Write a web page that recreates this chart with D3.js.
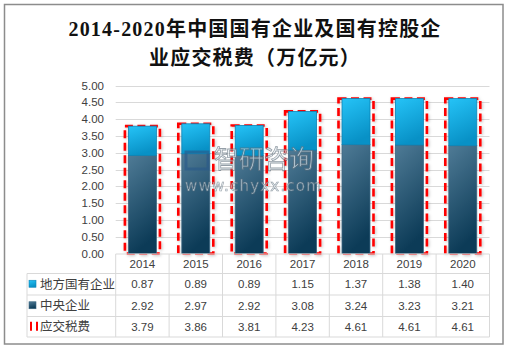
<!DOCTYPE html>
<html><head><meta charset="utf-8">
<script src="https://cdn.jsdelivr.net/npm/d3@7"></script>
<style>body{margin:0;background:#fff}svg{display:block}</style>
</head><body>
<script>
const years = ["2014","2015","2016","2017","2018","2019","2020"];
const localSOE = [0.87,0.89,0.89,1.15,1.37,1.38,1.40];
const centralSOE = [2.92,2.97,2.92,3.08,3.24,3.23,3.21];
const taxPayable = [3.79,3.86,3.81,4.23,4.61,4.61,4.61];
const yTicks = [0,0.5,1,1.5,2,2.5,3,3.5,4,4.5,5];
const seriesNames = ["地方国有企业","中央企业","应交税费"];
const titleLines = ["2014-2020年中国国有企业及国有控股企","业应交税费（万亿元）"];

const W=507,H=348;
const svg=d3.select("body").append("svg").attr("width",W).attr("height",H);
const defs=svg.append("defs");
const gDark=defs.append("linearGradient").attr("id","gDark").attr("x1",0).attr("y1",0).attr("x2",0.25).attr("y2",1);
gDark.append("stop").attr("offset",0).attr("stop-color","#4f7b96");
gDark.append("stop").attr("offset",1).attr("stop-color","#0c3b57");
const gCyan=defs.append("linearGradient").attr("id","gCyan").attr("x1",0).attr("y1",0).attr("x2",0.3).attr("y2",1);
gCyan.append("stop").attr("offset",0).attr("stop-color","#25c3f7");
gCyan.append("stop").attr("offset",1).attr("stop-color","#0891c6");
const sh=defs.append("filter").attr("id","sh").attr("x","-30%").attr("y","-10%").attr("width","160%").attr("height","120%");
sh.append("feDropShadow").attr("dx",1).attr("dy",1).attr("stdDeviation",1.5).attr("flood-color","#000").attr("flood-opacity",0.25);

svg.append("rect").attr("x",4.5).attr("y",4.5).attr("width",498.5).attr("height",339.5).attr("fill","#fff").attr("stroke","#8c8c8c").attr("stroke-width",1.5);

const title=svg.append("g").attr("font-family","'Liberation Serif','Noto Sans CJK SC',serif").attr("font-weight","bold").attr("font-size",20).attr("fill","#111").attr("text-anchor","middle");
title.selectAll("text").data(titleLines).join("text").attr("x",255).attr("y",(d,i)=>36+i*28.5).attr("letter-spacing",1.2).text(d=>d);

const x0=115.7,x1=489.5;
const x=d3.scaleBand().domain(years).range([x0,x1]).padding(0);
const y=d3.scaleLinear().domain([0,5]).range([253.5,85.5]);

svg.append("g").selectAll("line").data(yTicks.slice(1)).join("line")
 .attr("x1",x0).attr("x2",x1).attr("y1",d=>Math.round(y(d))+0.5).attr("y2",d=>Math.round(y(d))+0.5)
 .attr("stroke","#d9d9d9");

const yAxis=d3.axisLeft(y).tickValues(yTicks).tickFormat(d3.format(".2f")).tickSize(0).tickPadding(0);
const ya=svg.append("g").attr("transform","translate(104,0)").call(yAxis);
ya.select(".domain").remove();
ya.selectAll("text").attr("font-family","'Liberation Sans',Arial,sans-serif").attr("font-size",11.5).attr("fill","#404040");

const bw=28, dw=35;
const bars=svg.append("g");
years.forEach((yr,i)=>{
  const cx=x(yr)+x.bandwidth()/2;
  bars.append("rect").attr("x",cx-dw/2).attr("y",y(taxPayable[i])).attr("width",dw).attr("height",y(0)-y(taxPayable[i]))
   .attr("fill","none").attr("stroke","#ff0000").attr("stroke-width",2.6).attr("stroke-dasharray","8,4.5").attr("filter","url(#sh)");
  bars.append("rect").attr("x",cx-bw/2).attr("y",y(centralSOE[i])).attr("width",bw).attr("height",y(0)-y(centralSOE[i]))
   .attr("fill","url(#gDark)").attr("stroke","#3c6782").attr("stroke-width",0.8);
  bars.append("rect").attr("x",cx-bw/2).attr("y",y(centralSOE[i]+localSOE[i])).attr("width",bw).attr("height",y(centralSOE[i])-y(centralSOE[i]+localSOE[i]))
   .attr("fill","url(#gCyan)").attr("stroke","#0c84b6").attr("stroke-width",0.8);
});

const wm=svg.append("g").attr("opacity",0.65);
wm.append("rect").attr("x",186).attr("y",152).attr("width",22).attr("height",17).attr("fill","none").attr("stroke","#2a5a8a").attr("stroke-width",3);
wm.append("text").attr("x",214).attr("y",168).attr("font-family","'Noto Sans CJK SC',sans-serif").attr("font-size",25).attr("fill","#e8eef2").attr("stroke","#5d6d7a").attr("stroke-width",0.8).text("智研咨询");
wm.append("text").attr("x",185).attr("y",191).attr("font-family","'DejaVu Sans',sans-serif").attr("font-size",15).attr("letter-spacing",1.2).attr("fill","#e8eef2").attr("stroke","#5d6d7a").attr("stroke-width",0.6).text("www.chyxx.com");

const rowsY=[254,273.5,295,316.5,337];
const tbl=svg.append("g").attr("stroke","#d9d9d9").attr("stroke-width",1);
rowsY.forEach((ry,i)=>{
  tbl.append("line").attr("x1",i===0?x0:27).attr("x2",x1).attr("y1",ry).attr("y2",ry);
});
tbl.append("line").attr("x1",27).attr("x2",27).attr("y1",rowsY[1]).attr("y2",rowsY[4]);
years.forEach(yr=>{ tbl.append("line").attr("x1",x(yr)).attr("x2",x(yr)).attr("y1",rowsY[0]).attr("y2",rowsY[4]); });
tbl.append("line").attr("x1",x1).attr("x2",x1).attr("y1",rowsY[0]).attr("y2",rowsY[4]);

const tf="'Liberation Sans',Arial,sans-serif";
const tt=svg.append("g").attr("font-family",tf).attr("font-size",11.5).attr("fill","#404040").attr("text-anchor","middle");
const rowData=[years, localSOE.map(d=>d.toFixed(2)), centralSOE.map(d=>d.toFixed(2)), taxPayable.map(d=>d.toFixed(2))];
rowData.forEach((row,r)=>{
  row.forEach((v,i)=>{
    tt.append("text").attr("x",x(years[i])+x.bandwidth()/2).attr("y",(rowsY[r]+rowsY[r+1])/2+4).text(v);
  });
});
const lg=svg.append("g").attr("font-family","'Noto Sans CJK SC',sans-serif").attr("font-size",12.5).attr("fill","#404040");
seriesNames.forEach((n,i)=>{
  const cy=(rowsY[i+1]+rowsY[i+2])/2;
  lg.append("text").attr("x",40).attr("y",cy+4.5).text(n);
});
lg.append("rect").attr("x",29).attr("y",(rowsY[1]+rowsY[2])/2-4).attr("width",7).attr("height",7).attr("fill","url(#gCyan)").attr("stroke","#0c84b6").attr("stroke-width",0.6);
lg.append("rect").attr("x",29).attr("y",(rowsY[2]+rowsY[3])/2-4).attr("width",7).attr("height",7).attr("fill","url(#gDark)").attr("stroke","#3c6782").attr("stroke-width",0.6);
[31,37].forEach(lx=>{
  lg.append("line").attr("x1",lx).attr("x2",lx).attr("y1",(rowsY[3]+rowsY[4])/2-5).attr("y2",(rowsY[3]+rowsY[4])/2+4).attr("stroke","#ff0000").attr("stroke-width",2);
});
</script>
</body></html>
